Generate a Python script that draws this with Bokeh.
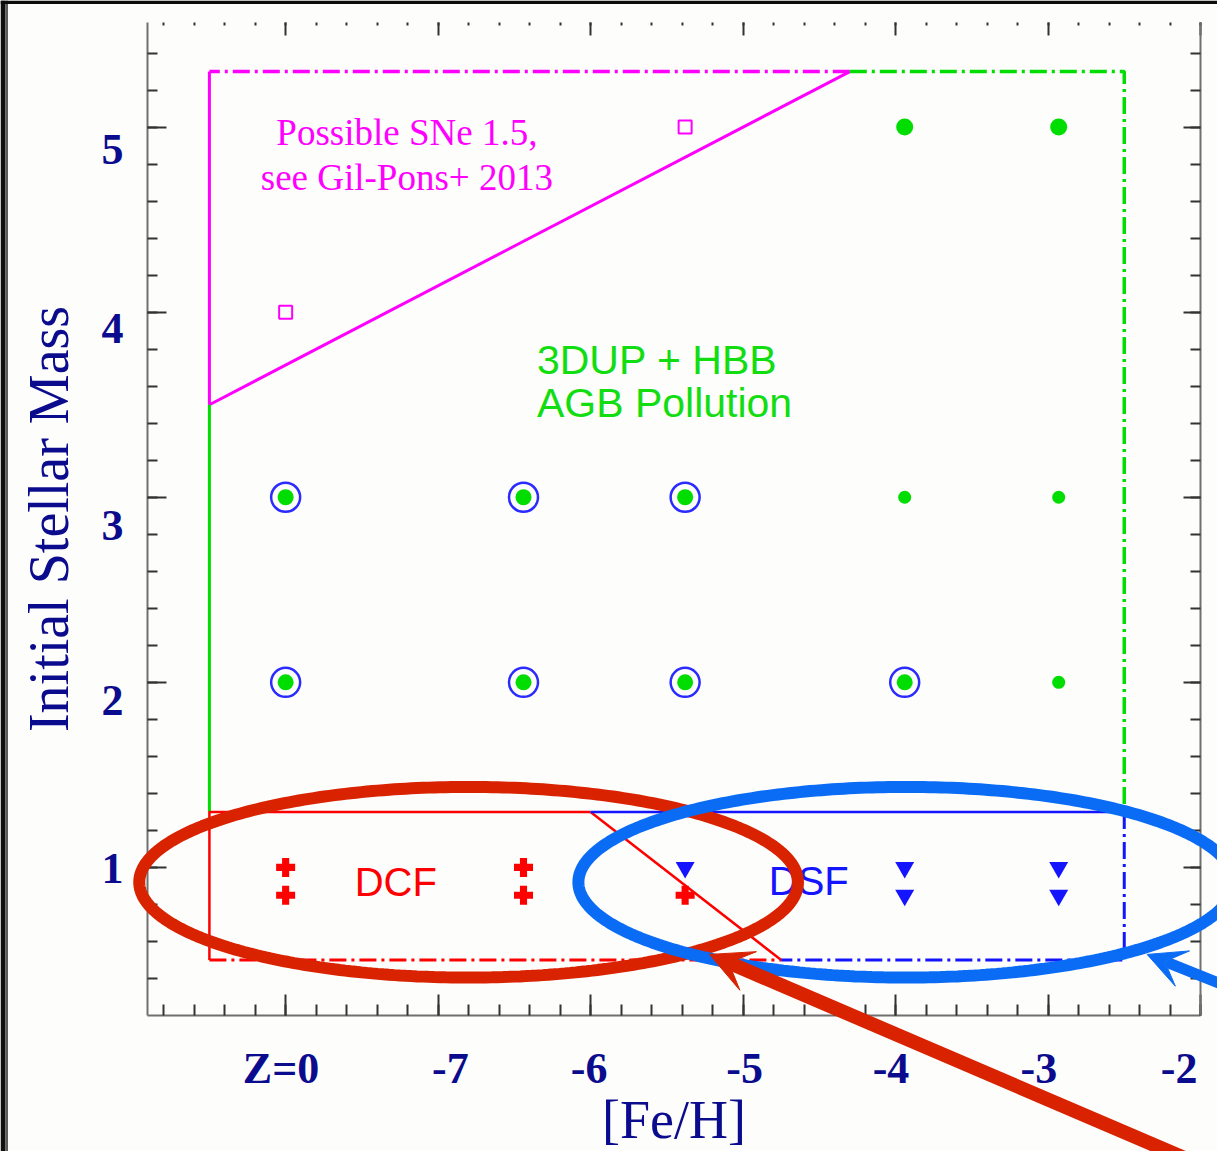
import numpy as np
from bokeh.plotting import figure
from bokeh.models import (Range1d, LinearAxis, FixedTicker, PolyAnnotation, Arrow, VeeHead,
                          BoxAnnotation)
from bokeh.core.properties import value
from bokeh.embed import file_html
from bokeh.resources import INLINE

# ---------------------------------------------------------------- data
# model columns in [Fe/H]; the Z=0 column is placed at -8
# green: 3DUP + HBB models (large dots at 5 Msun, ringed / plain below)
agb_big_feh = [-3.94, -2.93]
agb_big_mass = [5.0, 5.0]
agb_ringed_feh = [-8.0, -6.44, -5.38, -8.0, -6.44, -5.38, -3.94]
agb_ringed_mass = [3.0, 3.0, 3.0, 2.0, 2.0, 2.0, 2.0]
agb_plain_feh = [-3.94, -2.93, -2.93]
agb_plain_mass = [3.0, 3.0, 2.0]
# possible SNe 1.5 (open squares)
sne_feh = [-8.0, -5.38]
sne_mass = [4.0, 5.0]
# dual core flash (plus) and dual shell flash (triangles)
dcf_feh = [-8.0, -8.0, -6.44, -6.44, -5.38]
dcf_mass = [1.0, 0.85, 1.0, 0.85, 0.85]
dsf_feh = [-5.38, -3.94, -3.94, -2.93, -2.93]
dsf_mass = [1.0, 1.0, 0.85, 1.0, 0.85]

# region boundaries
feh_left, feh_right = -8.5, -2.5
mass_top, mass_low_top, mass_bottom = 5.3, 1.3, 0.5
sne_left_mass = 3.5          # SNe wedge meets the left edge here
sne_top_feh = -4.3           # ...and the top edge here
dcf_top_feh, dcf_bottom_feh = -6.0, -4.75

# axes box and ticks
feh_min, feh_max = -8.906, -2.0
mass_min, mass_max = 0.2, 5.565
x_major_ticks = [-8, -7, -6, -5, -4, -3, -2]
x_minor_ticks = list(np.round(np.arange(-8.8, -1.99, 0.2), 1))
y_major_ticks = [1, 2, 3, 4, 5]
y_minor_ticks = list(np.round(np.arange(0.4, 5.41, 0.2), 1))
x_tick_labels = ["Z=0", "-7", "-6", "-5", "-4", "-3", "-2"]
x_tick_label_pos = [-8.03, -6.92, -6.01, -4.99, -4.03, -3.06, -2.14]
y_tick_labels = ["1", "2", "3", "4", "5"]
y_tick_label_pos = [0.995, 1.90, 2.85, 3.91, 4.88]

# highlight ellipses (centre, semi-axes) and arrows (start -> tip)
red_ellipse = (-6.80, 0.92, 2.16, 0.515)
blue_ellipse = (-3.93, 0.92, 2.15, 0.515)
red_arrow = (-2.02, -0.60, -5.22, 0.53)
blue_arrow = (-1.79, 0.345, -2.35, 0.53)

# ---------------------------------------------------------------- style
NAVY = "#0b0b8e"
MAGENTA = "#ff00ff"
GREEN = "#00dd00"
RED = "#ff0000"
BLUE = "#1414ff"
RING = "#2b2bff"
HI_RED = "#d92300"
HI_BLUE = "#0a6cf5"
SERIF = "Liberation Serif"
SANS = "Liberation Sans"
DASHDOT = "17 5 3 5"

# the frame fills the canvas; the axes sit at fixed positions inside it so
# that the highlight ellipses and arrows can run past the axes box
W, H = 1217, 1151
box_left, box_right, box_top, box_bottom = 147, 1200, 22, 1015
sx = (box_right - box_left) / (feh_max - feh_min)
sy = (box_bottom - box_top) / (mass_max - mass_min)
x_range = Range1d(feh_min - box_left / sx, feh_max + (W - box_right) / sx)
y_range = Range1d(mass_min - (H - box_bottom) / sy, mass_max + box_top / sy)

p = figure(width=W, height=H, x_range=x_range, y_range=y_range,
           x_axis_location=None, y_axis_location=None,
           min_border_left=0, min_border_right=0, min_border_top=0, min_border_bottom=0,
           output_backend="svg", toolbar_location=None)
p.grid.visible = False
p.outline_line_color = None
p.background_fill_color = "#fdfdfc"
p.border_fill_color = "#fdfdfc"

x_bounds = (feh_min, feh_max)
y_bounds = (mass_min, mass_max)


def tick_axis(loc, bounds, ticks, length, show_line):
    return LinearAxis(
        fixed_location=loc, bounds=bounds,
        ticker=FixedTicker(ticks=[], minor_ticks=ticks),
        minor_tick_in=length, minor_tick_out=0, major_tick_in=0, major_tick_out=0,
        major_label_standoff=0,
        axis_line_color="#707070" if show_line else None, axis_line_width=2,
        minor_tick_line_color="#333333", minor_tick_line_width=2)


def label_axis(loc, bounds, pos, labels, standoff, title, title_size, title_standoff):
    return LinearAxis(
        fixed_location=loc, bounds=bounds,
        ticker=FixedTicker(ticks=pos, minor_ticks=[]),
        major_label_overrides=dict(zip(pos, labels)),
        axis_line_color=None, major_tick_line_color=None, minor_tick_line_color=None,
        major_tick_in=0, major_tick_out=0, minor_tick_in=0, minor_tick_out=0,
        major_label_standoff=standoff,
        major_label_text_font=SERIF, major_label_text_font_size="44px",
        major_label_text_font_style="bold", major_label_text_color=NAVY,
        axis_label=title, axis_label_standoff=title_standoff,
        axis_label_text_font=SERIF, axis_label_text_font_size=title_size,
        axis_label_text_font_style="normal", axis_label_text_color=NAVY)


# bottom
p.add_layout(tick_axis(mass_min, x_bounds, x_major_ticks, 21, True), "below")
p.add_layout(tick_axis(mass_min, x_bounds, x_minor_ticks, 11, False), "below")
p.add_layout(label_axis(mass_min, x_bounds, x_tick_label_pos, x_tick_labels, 28,
                        "[Fe/H]", "54px", -6), "below")
# left
p.add_layout(tick_axis(feh_min, y_bounds, y_major_ticks, 19, True), "left")
p.add_layout(tick_axis(feh_min, y_bounds, y_minor_ticks, 10, False), "left")
p.add_layout(label_axis(feh_min, y_bounds, y_tick_label_pos, y_tick_labels, 24,
                        "Initial Stellar Mass", "56px", 19), "left")
# right
p.add_layout(tick_axis(feh_max, y_bounds, y_major_ticks, 17, True), "right")
p.add_layout(tick_axis(feh_max, y_bounds, y_minor_ticks, 10, False), "right")
# top (ticks only, no spine)
p.add_layout(tick_axis(mass_max, x_bounds, x_major_ticks, 13, False), "above")
p.add_layout(tick_axis(mass_max, x_bounds, x_minor_ticks, 3, False), "above")

# dark page edges on the left and top
p.add_layout(BoxAnnotation(right=x_range.start + 5 / sx, fill_color="#111111", fill_alpha=1,
                           line_alpha=0))
p.add_layout(BoxAnnotation(left=x_range.start + 5 / sx, right=x_range.start + 7.5 / sx,
                           fill_color="#5c5f58", fill_alpha=1, line_alpha=0))
p.add_layout(BoxAnnotation(bottom=y_range.end - 3.5 / sy, fill_color="#0c0c0c", fill_alpha=1,
                           line_alpha=0))

# ---------------------------------------------------------------- regions
# SNe 1.5 wedge
p.line([sne_top_feh, feh_left], [mass_top, mass_top], line_color=MAGENTA, line_width=3.5,
       line_dash=DASHDOT)
p.line([feh_left, feh_left, sne_top_feh], [mass_top, sne_left_mass, mass_top], line_color=MAGENTA,
       line_width=3)
# AGB pollution region
p.line([feh_left, feh_left], [sne_left_mass, mass_low_top], line_color=GREEN, line_width=3)
p.line([sne_top_feh, feh_right, feh_right], [mass_top, mass_top, mass_low_top],
       line_color=GREEN, line_width=3.5, line_dash=DASHDOT)
# DCF region
p.line([dcf_top_feh, feh_left, feh_left], [mass_low_top, mass_low_top, mass_bottom], line_color=RED,
       line_width=2.5)
p.line([dcf_top_feh, dcf_bottom_feh], [mass_low_top, mass_bottom], line_color=RED, line_width=2.5)
p.line([feh_left, dcf_bottom_feh], [mass_bottom, mass_bottom], line_color=RED, line_width=3,
       line_dash=DASHDOT)
# DSF region
p.line([dcf_top_feh, feh_right], [mass_low_top, mass_low_top], line_color=BLUE, line_width=2.5)
p.line([feh_right, feh_right, dcf_bottom_feh], [mass_low_top, mass_bottom, mass_bottom],
       line_color=BLUE, line_width=3, line_dash=DASHDOT)

# ---------------------------------------------------------------- models
p.scatter(agb_big_feh, agb_big_mass, marker="circle", size=17, fill_color=GREEN, line_color=None)
p.scatter(agb_ringed_feh, agb_ringed_mass, marker="circle", size=16, fill_color=GREEN, line_color=None)
p.scatter(agb_ringed_feh, agb_ringed_mass, marker="circle", size=29, fill_color=None,
          line_color=RING, line_width=2.5)
p.scatter(agb_plain_feh, agb_plain_mass, marker="circle", size=13, fill_color=GREEN, line_color=None)
p.scatter(sne_feh, sne_mass, marker="square", size=13, fill_color=None, line_color=MAGENTA, line_width=2)
p.scatter(dcf_feh, dcf_mass, marker="plus", size=19, fill_color=RED, line_color=None)
p.scatter(dsf_feh, dsf_mass, marker="inverted_triangle", size=19, fill_color=BLUE, line_color=None)

# ---------------------------------------------------------------- texts
p.text(x=[-7.205, -7.205], y=[4.971, 4.728], text=["Possible SNe 1.5,", "see Gil-Pons+ 2013"],
       text_font=value(SERIF), text_font_size="37px", text_color=MAGENTA,
       text_align="center", text_baseline="middle")
p.text(x=[-6.352, -6.352], y=[3.742, 3.510], text=["3DUP + HBB", "AGB Pollution"],
       text_font=value(SANS), text_font_size="41px", text_color="#11dd11",
       text_align="left", text_baseline="middle")
p.text(x=[-7.278], y=[0.919], text=["DCF"], text_font=value(SANS), text_font_size="40px",
       text_color=RED, text_align="center", text_baseline="middle")
p.text(x=[-4.569], y=[0.924], text=["DSF"], text_font=value(SANS), text_font_size="40px",
       text_color=BLUE, text_align="center", text_baseline="middle")

# ---------------------------------------------------------------- highlights
theta = np.linspace(0.0, 2.0 * np.pi, 361)
for (cx, cy, a, b), col in ((red_ellipse, HI_RED), (blue_ellipse, HI_BLUE)):
    p.add_layout(PolyAnnotation(xs=list(cx + a * np.cos(theta)), ys=list(cy + b * np.sin(theta)),
                                fill_alpha=0, line_color=col, line_alpha=1.0, line_width=12))

for (xs, ys, xe, ye), col, w, hs in ((red_arrow, HI_RED, 14, 42), (blue_arrow, HI_BLUE, 11, 38)):
    p.add_layout(Arrow(x_start=xs, y_start=ys, x_end=xe, y_end=ye, line_color=col, line_width=w,
                       end=VeeHead(size=hs, fill_color=col, line_color=col)))

open("out.html", "w").write(file_html(p, INLINE))
